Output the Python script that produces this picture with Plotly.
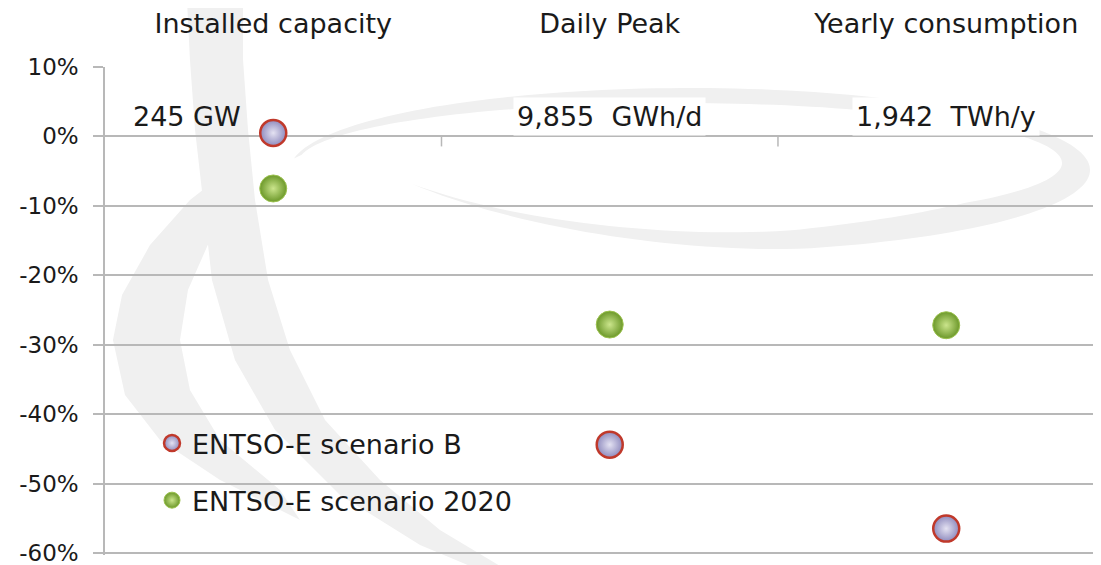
import numpy as np
import plotly.graph_objects as go

categories = ["Installed capacity", "Daily Peak", "Yearly consumption"]
scenario_b = [0.5, -44.4, -56.5]
scenario_2020 = [-7.5, -27.1, -27.2]
ref_labels = ["245 GW", "9,855 \u00a0GWh/d", "1,942 \u00a0TWh/y"]
ref_label_y = [2.8, 2.8, 2.8]
y_ticks = [10, 0, -10, -20, -30, -40, -50, -60]
y_ticktext = ["10%", "0%", "-10%", "-20%", "-30%", "-40%", "-50%", "-60%"]
boundaries = [0.5, 1.5]

FONT = "DejaVu Sans"
TXT = "#1a1a1a"
OFF = 8                       # default body margin of the page
W, H = 1101 - OFF, 565 - OFF
PL, PT, PR, PB = 105, 67, 1101, 555   # plot area in page pixels
PW, PH = PR - PL, PB - PT
Y_RANGE = [-60.3, 10]

def px2paper(pts):
    return [((x - PL) / PW, (PB - y) / PH) for x, y in pts]

def path_from(pts):
    p = px2paper(pts)
    return "M " + " L ".join(f"{x:.4f},{y:.4f}" for x, y in p) + " Z"

# watermark swoosh (decoration)
t = np.radians(np.linspace(134, -172, 160))
s = np.linspace(0, 1, t.size)
f = np.clip(s / 0.3, 0, 1)
warp = 45 * np.clip(1 - s / 0.2, 0, 1) ** 1.5
ox, oy = 690 + 400 * np.cos(t), 170 + 82 * np.sin(t) - warp
ix, iy = 680 + 382 * np.cos(t), 163 + 60 * np.sin(t) - warp
ix, iy = ox + f * (ix - ox), oy + f * (iy - oy)
ring = path_from(list(zip(ox, oy)) + list(zip(ix[::-1], iy[::-1])))
band_a = path_from([(187, 0), (190, 60), (195, 130), (203, 200), (212, 280), (235, 360), (275, 430),
                    (340, 495), (420, 545), (470, 566), (500, 566), (440, 530), (380, 480),
                    (325, 420), (290, 350), (268, 280), (255, 200), (248, 130), (243, 60), (243, 0)])
band_b = path_from([(235, 165), (190, 200), (150, 245), (122, 295), (113, 340), (125, 395),
                    (160, 440), (220, 480), (300, 520), (280, 490), (220, 440), (190, 390),
                    (180, 340), (188, 290), (210, 240), (240, 195)])
WM = "#F0F0F0"
grid = "#B8B8B8"
shapes = [dict(type="path", path=p, xref="paper", yref="paper", fillcolor=WM,
               line=dict(width=0), layer="below") for p in (ring, band_a, band_b)]
# category boundary ticks hanging below the 0% axis line
for b in boundaries:
    shapes.append(dict(type="line", xref="x", yref="y", x0=b, x1=b,
                       ysizemode="pixel", yanchor=0, y0=0, y1=-10,
                       line=dict(color=grid, width=1.5), layer="above"))

fig = go.Figure()
fig.add_trace(go.Scatter(
    x=categories, y=scenario_b, mode="markers", name="ENTSO-E scenario B",
    legendgroup="b",
    marker=dict(size=26, color="#8F8BBE", line=dict(color="#C0392B", width=2.5),
                gradient=dict(type="radial", color="#E4E2F2")),
))
fig.add_trace(go.Scatter(
    x=categories, y=scenario_2020, mode="markers", name="ENTSO-E scenario 2020",
    legendgroup="g",
    marker=dict(size=27, color="#6C982A", line=dict(color="#9CC24F", width=1),
                gradient=dict(type="radial", color="#CBE58C")),
))

for i, txt in enumerate(ref_labels):
    fig.add_annotation(
        x=(-0.43 if i == 0 else i), y=ref_label_y[i], text=txt, showarrow=False,
        xanchor="left" if i == 0 else "center", yanchor="middle",
        font=dict(family=FONT, size=27, color=TXT),
        bgcolor=None if i == 0 else "white", borderpad=3,
    )

fig.update_layout(
    width=W, height=H,
    margin=dict(l=PL - OFF, r=0, t=PT - OFF, b=H - (PB - OFF), autoexpand=False),
    paper_bgcolor="white", plot_bgcolor="rgba(0,0,0,0)",
    font=dict(family=FONT, size=27, color=TXT),
    shapes=shapes,
    showlegend=True,
    legend=dict(x=(152 - PL) / PW, y=(PB - 419) / PH, xanchor="left", yanchor="top",
                bgcolor="rgba(0,0,0,0)", font=dict(family=FONT, size=27, color=TXT),
                traceorder="grouped", tracegroupgap=19, itemsizing="trace"),
    xaxis=dict(type="category", range=[-0.5, 2.46], side="top", showgrid=False,
               showline=False, zeroline=False, ticks="", ticklabelstandoff=28,
               tickfont=dict(family=FONT, size=27, color=TXT), fixedrange=True),
    yaxis=dict(range=Y_RANGE, tickvals=y_ticks, ticktext=y_ticktext,
               showgrid=True, gridcolor=grid, gridwidth=1.5,
               zeroline=True, zerolinecolor=grid, zerolinewidth=1.5,
               showline=True, linecolor=grid, linewidth=1.5,
               ticks="outside", ticklen=10, tickcolor=grid, tickwidth=1.5,
               ticklabelstandoff=10, ticklabeloverflow="allow",
               tickfont=dict(family=FONT, size=23, color=TXT)),
)

fig.write_html("out.html")
